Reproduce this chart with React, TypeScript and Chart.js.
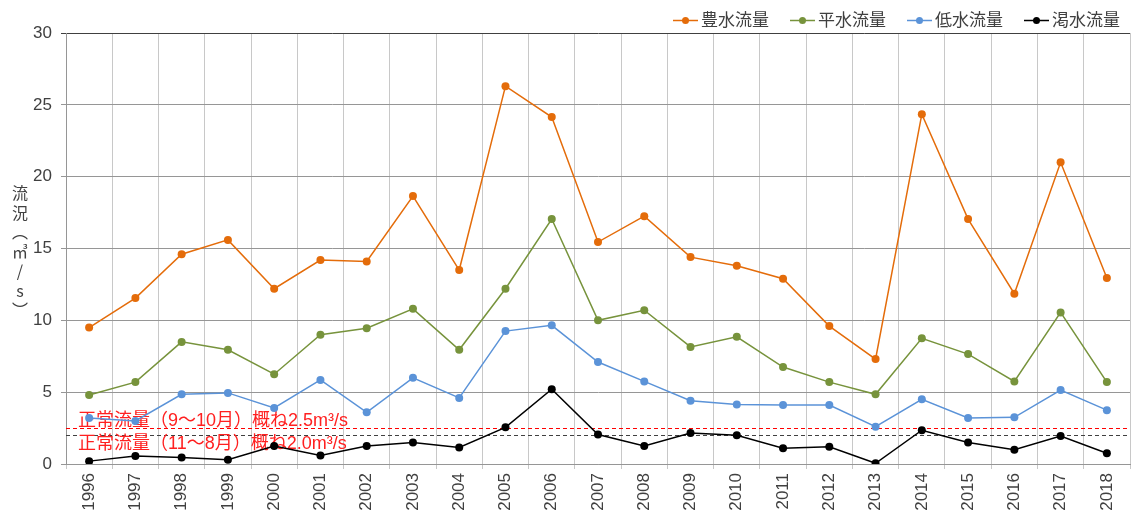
import React, { useEffect, useRef } from "react";
import { Chart, registerables } from "chart.js";
Chart.register(...registerables);

const years = ["1996","1997","1998","1999","2000","2001","2002","2003","2004","2005","2006","2007","2008","2009","2010","2011","2012","2013","2014","2015","2016","2017","2018"];
const houSui = [9.5,11.55,14.6,15.6,12.2,14.2,14.1,18.65,13.5,26.3,24.15,15.45,17.25,14.4,13.8,12.9,9.6,7.3,24.35,17.05,11.85,21.0,12.95];
const heiSui = [4.8,5.7,8.5,7.95,6.25,9.0,9.45,10.8,7.95,12.2,17.05,10.0,10.7,8.15,8.85,6.75,5.7,4.85,8.75,7.65,5.75,10.55,5.7];
const teiSui = [3.2,3.0,4.85,4.95,3.9,5.85,3.6,6.0,4.6,9.25,9.65,7.1,5.75,4.4,4.15,4.1,4.1,2.6,4.5,3.2,3.25,5.15,3.75];
const kassui = [0.2,0.55,0.45,0.3,1.25,0.6,1.25,1.5,1.15,2.55,5.2,2.05,1.25,2.15,2.0,1.1,1.2,0.05,2.35,1.5,1.0,1.95,0.75];
const seriesNames = ["豊水流量","平水流量","低水流量","渇水流量"];
const seriesColors = ["#E46C0A","#77933C","#5B93D8","#000000"];
const normalLevels = [2.5, 2.0];
const normalLabels = ["正常流量（9～10月）概ね2.5m³/s","正常流量（11～8月）概ね2.0m³/s"];
const normalLineColors = ["#FF0000","#404040"];
const yTitleChars = ["流","況","︵","㎥","/","s","︶"];

const FONT = "'Liberation Sans', 'Noto Sans CJK JP', sans-serif";
const CJK = "'Noto Sans CJK JP', sans-serif";

export default function App() {
  const ref = useRef<HTMLCanvasElement>(null);
  useEffect(() => {
    document.body.style.margin = "0";
    const canvas = ref.current!;
    const seriesData = [houSui, heiSui, teiSui, kassui];

    const overlay = {
      id: "overlay",
      beforeDatasetsDraw(chart: any) {
        const { ctx, chartArea, scales } = chart;
        const y = scales.y;
        ctx.save();
        normalLevels.forEach((v, i) => {
          const py = Math.round(y.getPixelForValue(v)) + 0.5;
          ctx.beginPath();
          ctx.setLineDash([4, 3]);
          ctx.strokeStyle = normalLineColors[i];
          ctx.lineWidth = 1;
          ctx.moveTo(chartArea.left, py);
          ctx.lineTo(chartArea.right, py);
          ctx.stroke();
        });
        ctx.setLineDash([]);
        ctx.fillStyle = "#FF2020";
        ctx.font = `18px ${FONT}`;
        ctx.textBaseline = "middle";
        ctx.textAlign = "left";
        ctx.fillText(normalLabels[0], chartArea.left + 12, y.getPixelForValue(normalLevels[0]) - 7);
        ctx.fillText(normalLabels[1], chartArea.left + 12, y.getPixelForValue(normalLevels[1]) + 9);
        ctx.restore();
      },
      afterDraw(chart: any) {
        const { ctx } = chart;
        ctx.save();
        ctx.font = `17px ${CJK}`;
        ctx.textBaseline = "middle";
        ctx.textAlign = "left";
        let x = 1120;
        const positions: number[] = [];
        for (let i = seriesNames.length - 1; i >= 0; i--) {
          const w = ctx.measureText(seriesNames[i]).width;
          const textX = x - w;
          positions[i] = textX;
          x = textX - 3 - 25 - 21;
        }
        const ly = 20;
        seriesNames.forEach((name, i) => {
          const tx = positions[i];
          const lx0 = tx - 28;
          ctx.strokeStyle = seriesColors[i];
          ctx.lineWidth = 1.5;
          ctx.beginPath();
          ctx.moveTo(lx0, ly + 0.5);
          ctx.lineTo(lx0 + 25, ly + 0.5);
          ctx.stroke();
          ctx.fillStyle = seriesColors[i];
          ctx.beginPath();
          ctx.arc(lx0 + 12.5, ly + 0.5, 3.5, 0, Math.PI * 2);
          ctx.fill();
          ctx.fillStyle = "#404040";
          ctx.fillText(name, tx, ly);
        });
        ctx.font = `16px ${CJK}`;
        ctx.textAlign = "center";
        ctx.fillStyle = "#404040";
        yTitleChars.forEach((c, i) => {
          ctx.fillText(c, 20, 193 + i * 19.5);
        });
        ctx.restore();
      },
    };

    const chart = new Chart(canvas, {
      type: "line",
      data: {
        labels: years,
        datasets: seriesNames.map((name, i) => ({
          label: name,
          data: seriesData[i],
          borderColor: seriesColors[i],
          backgroundColor: seriesColors[i],
          borderWidth: 1.5,
          pointRadius: 4,
          pointBorderWidth: 0,
          pointBackgroundColor: seriesColors[i],
          tension: 0,
          order: seriesNames.length - i,
        })),
      },
      options: {
        animation: false,
        responsive: false,
        layout: { padding: { top: 33, right: 1, left: 0, bottom: 0 } },
        plugins: { legend: { display: false }, tooltip: { enabled: false } },
        scales: {
          x: {
            offset: true,
            grid: { offset: true, color: "#c8c8c8", tickLength: 5, drawTicks: true },
            border: { color: "#969696" },
            ticks: {
              maxRotation: 90,
              minRotation: 90,
              autoSkip: false,
              color: "#404040",
              padding: 4,
              font: { family: FONT, size: 17 },
            },
            afterFit: (s: any) => { s.height = 53; },
          },
          y: {
            min: 0,
            max: 30,
            grid: {
              color: (c: any) => (c.tick && c.tick.value === 30 ? "#404040" : "#969696"),
              tickLength: 5,
            },
            border: { color: "#969696" },
            ticks: {
              stepSize: 5,
              color: "#404040",
              padding: 9,
              font: { family: FONT, size: 17 },
            },
            afterFit: (s: any) => { s.width = 66; },
          },
        },
      },
      plugins: [overlay],
    } as any);
    return () => chart.destroy();
  }, []);
  return (
    <div style={{ width: 1134, height: 517 }}>
      <canvas ref={ref} width={1134} height={517} style={{ display: "block" }} />
    </div>
  );
}
